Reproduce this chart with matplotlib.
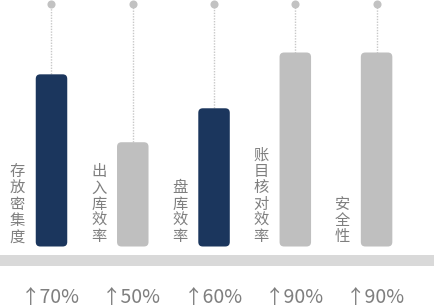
import matplotlib
matplotlib.use("Agg")
import matplotlib.pyplot as plt
from matplotlib.patches import FancyBboxPatch

categories = ["存放密集度", "出入库效率", "盘库效率", "账目核对效率", "安全性"]
bar_values = [71, 43, 57, 80, 80]
improvements = ["70%", "50%", "60%", "90%", "90%"]
highlight = [True, False, True, False, False]

NAVY = "#1b365d"
GRAY = "#bfbfbf"
TEXT = "#7f7f7f"

W, H, DPI = 435, 308, 100
fig = plt.figure(figsize=(W / DPI, H / DPI), dpi=DPI)
ax = fig.add_axes([0, 0, 1, 1])

px_x = 81.27
x0_px = 51.5
px_y = 2.425
y0_px = 246.5
ax.set_xlim(-x0_px / px_x, (W - x0_px) / px_x)
ax.set_ylim((y0_px - H) / px_y, y0_px / px_y)
ax.axis("off")

xs = list(range(len(categories)))
bw = 31.5 / px_x
bars = ax.bar(xs, bar_values, width=bw, color=[NAVY if h else GRAY for h in highlight])

aspect = (1 / px_y) / (1 / px_x)
r = 4.5 / px_x
for p in list(bars.patches):
    x, y = p.get_x(), p.get_y()
    w, h = p.get_width(), p.get_height()
    fb = FancyBboxPatch((x, y), w, h,
                        boxstyle=f"round,pad=0,rounding_size={r}",
                        mutation_aspect=aspect,
                        facecolor=p.get_facecolor(), edgecolor="none", zorder=3)
    p.set_visible(False)
    ax.add_patch(fb)

top = 100
ax.vlines(xs, bar_values, top, colors="#c8c8c8", linestyles=(0, (1, 1)), linewidth=1, zorder=2)
ax.scatter(xs, [top] * len(xs), s=34, color="#c2c2c2", zorder=4, linewidths=0)

ax.axhspan((y0_px - 266) / px_y, (y0_px - 255) / px_y, color="#d9d9d9", zorder=1, linewidth=0)

off = -34 / px_x
for i, c in enumerate(categories):
    ax.text(i + off, (y0_px - 245.5) / px_y, "\n".join(c), ha="center", va="bottom",
            fontsize=11, color=TEXT, family=["Noto Sans CJK SC", "DejaVu Sans"],
            linespacing=0.95, zorder=5)

base_y = (y0_px - 303.3) / px_y
for i, t in enumerate(improvements):
    ax.text(i - 1.0 / px_x, base_y, "↑" + t, ha="center", va="baseline",
            fontsize=14, color=TEXT, family=["Noto Sans CJK SC", "DejaVu Sans"])

fig.savefig("out.png", dpi=DPI)
